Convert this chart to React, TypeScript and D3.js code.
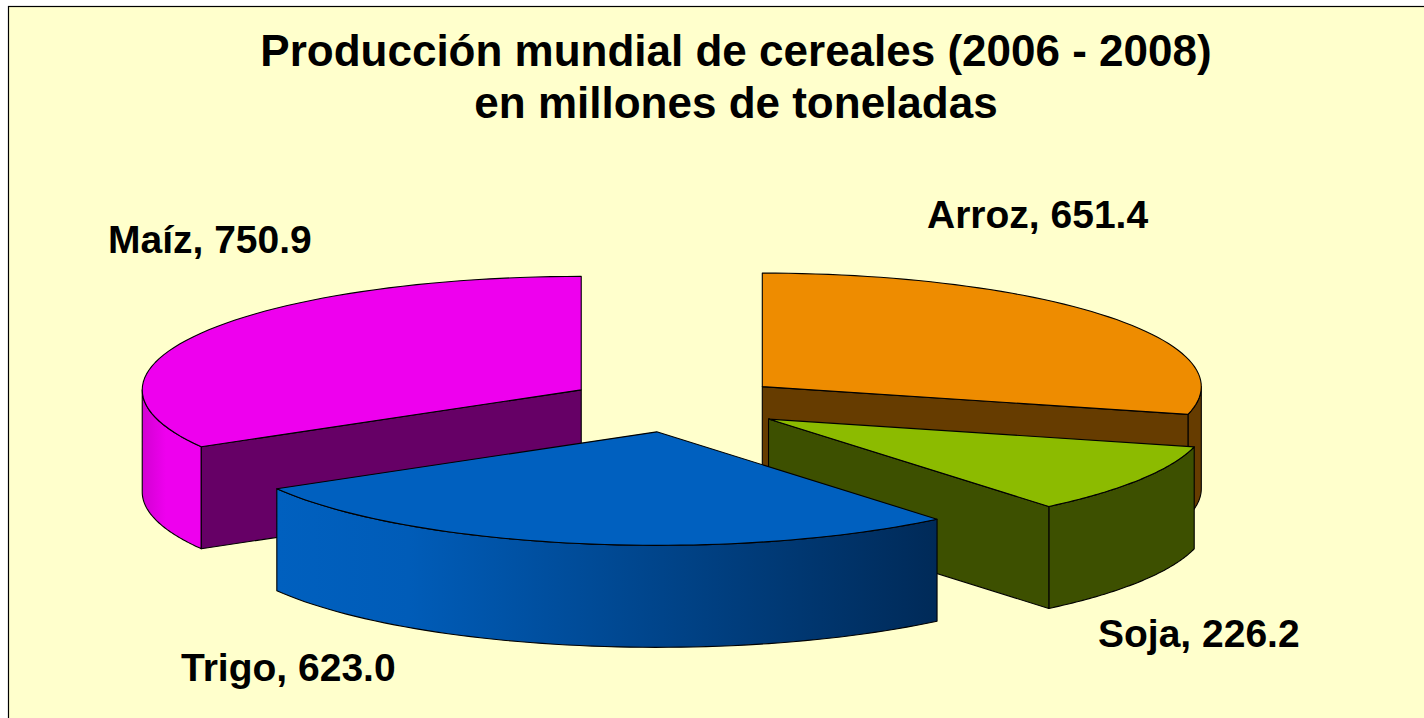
import { useEffect, useRef } from "react";
import * as d3 from "d3";

const categories = ["Arroz", "Soja", "Trigo", "Maíz"];
const values = [651.4, 226.2, 623.0, 750.9];
const topColors = ["#ee8c00", "#8cbb00", "#0060bf", "#ee00ee"];
const cutColors = ["#663c00", "#3d5000", "#002a58", "#660066"];
const wallColors = ["#663c00", "#3d5000", "url(#trigoWall)", "url(#maizWall)"];
const titleLines = ["Producción mundial de cereales (2006 - 2008)", "en millones de toneladas"];

const labelPos: [number, number][] = [
  [927, 228],
  [1098, 647],
  [181, 681],
  [108, 253],
];

const W = 1424;
const H = 718;
const cx = 676;
const cy = 404;
const rx = 439;
const ry = 113.5;
const depth = 102;
const explode = 0.2492;

type Pt = [number, number];

const App = () => {
  const ref = useRef<SVGSVGElement>(null);

  useEffect(() => {
    const svg = d3.select(ref.current);
    svg.selectAll("*").remove();

    const defs = svg.append("defs");
    const grad = (id: string, stops: [number, string][]) => {
      const g = defs.append("linearGradient").attr("id", id);
      stops.forEach(([o, c]) => g.append("stop").attr("offset", o).attr("stop-color", c));
    };
    grad("trigoWall", [
      [0, "#0060bf"],
      [0.2, "#005cb8"],
      [1, "#002a58"],
    ]);
    grad("maizWall", [
      [0, "#d200d2"],
      [0.4, "#ee00ee"],
      [1, "#ee00ee"],
    ]);

    svg.append("rect").attr("width", W).attr("height", H).attr("fill", "#fff");
    svg
      .append("rect")
      .attr("x", 8.5)
      .attr("y", 6.5)
      .attr("width", W)
      .attr("height", H)
      .attr("fill", "#ffffcc")
      .attr("stroke", "#000")
      .attr("stroke-width", 1.2);

    const arcs = d3
      .pie<number>()
      .sort(null)
      .startAngle(0)
      .endAngle(2 * Math.PI)(values);

    const line = d3.line<Pt>();
    const order = [0, 3, 1, 2]; // back slices first

    order.forEach((i) => {
      const a = arcs[i];
      const mid = (a.startAngle + a.endAngle) / 2;
      const ax = cx + rx * explode * Math.sin(mid);
      const ay = cy - ry * explode * Math.cos(mid);
      const proj = (t: number, dz = 0): Pt => [ax + rx * Math.sin(t), ay - ry * Math.cos(t) + dz];
      const sweep = (t0: number, t1: number, dz = 0): Pt[] =>
        d3.range(0, 61).map((k) => proj(t0 + ((t1 - t0) * k) / 60, dz));

      const g = svg.append("g").attr("stroke", "#000").attr("stroke-width", 1.1).attr("stroke-linejoin", "round");

      // outer rim, only the part facing the viewer
      const w0 = Math.max(a.startAngle, Math.PI / 2);
      const w1 = Math.min(a.endAngle, (3 * Math.PI) / 2);
      if (w1 > w0) {
        const pts = [...sweep(w0, w1), ...sweep(w1, w0, depth)];
        g.append("path")
          .attr("d", line(pts) + "Z")
          .attr("fill", wallColors[i]);
      }

      // cut faces
      const cut = (t: number) => {
        const p = proj(t);
        const pts: Pt[] = [[ax, ay], p, [p[0], p[1] + depth], [ax, ay + depth]];
        g.append("path")
          .attr("d", line(pts) + "Z")
          .attr("fill", cutColors[i]);
      };
      if (Math.sin(a.endAngle) > 0.001) cut(a.endAngle);
      if (Math.sin(a.startAngle) < -0.001) cut(a.startAngle);

      // top face
      const top: Pt[] = [[ax, ay], ...sweep(a.startAngle, a.endAngle)];
      g.append("path")
        .attr("d", line(top) + "Z")
        .attr("fill", topColors[i]);
    });

    const text = svg
      .append("g")
      .attr("font-family", "'Liberation Sans', Arial, sans-serif")
      .attr("font-weight", "bold")
      .attr("fill", "#000");

    titleLines.forEach((t, i) => {
      text
        .append("text")
        .attr("x", 736)
        .attr("y", 66 + i * 52)
        .attr("text-anchor", "middle")
        .attr("font-size", 44)
        .text(t);
    });

    categories.forEach((c, i) => {
      text
        .append("text")
        .attr("x", labelPos[i][0])
        .attr("y", labelPos[i][1])
        .attr("font-size", 39)
        .text(`${c}, ${values[i].toFixed(1)}`);
    });
  }, []);

  return (
    <svg
      ref={ref}
      width={W}
      height={H}
      style={{ position: "fixed", left: 0, top: 0, display: "block" }}
    />
  );
};

export default App;
